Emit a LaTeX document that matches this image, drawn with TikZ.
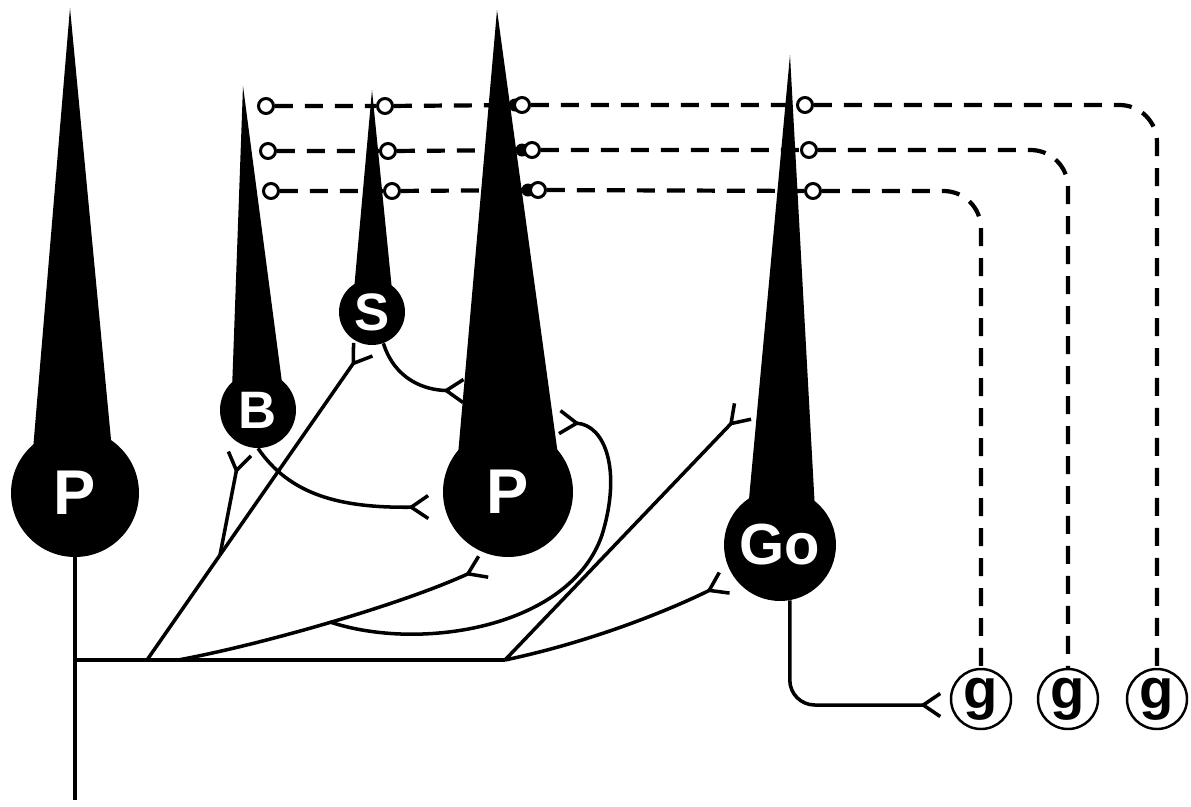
\documentclass[tikz,border=0pt]{standalone}
\usepackage{fontspec}
\setmainfont{Liberation Sans}
\usetikzlibrary{arrows.meta, calc}

\tikzset{
  soma/.style={circle, fill=black, text=white, inner sep=0pt},
  spine/.style={circle, draw, fill=white, line width=1.7pt, minimum size=0.3cm, inner sep=0pt},
  gcell/.style={circle, draw, line width=1.4pt, minimum size=1.2cm, inner sep=0pt,
                font=\bfseries\fontsize{32}{32}\selectfont},
  fibre/.style={line width=2pt},
  syn/.style={fibre, -{Straight Barb[reversed, length=3.4mm, width=4.6mm]}},
  parallel/.style={line width=2.4pt, dash pattern=on 0.36cm off 0.24cm, rounded corners=0.75cm},
}

\begin{document}
\begin{tikzpicture}[x=0.02cm, y=-0.02cm]
\useasboundingbox (0,0) rectangle (1191,806);

% dendritic cones
\fill (70,8) -- (33,450) -- (112,450) -- cycle;
\fill (243,86) -- (232,390) -- (283,390) -- cycle;
\fill (372,90) -- (354,290) -- (392,290) -- cycle;
\fill (497,10) -- (458,455) -- (558,455) -- cycle;
\fill (790,55) -- (748,510) -- (815,510) -- cycle;

% cell bodies
\node[soma, minimum size=2.56cm, font=\bfseries\fontsize{36}{36}\selectfont] (P1) at (75,493) {P};
\node[soma, minimum size=1.52cm, font=\bfseries\fontsize{30}{30}\selectfont] (B) at (258,410) {B};
\node[soma, minimum size=1.32cm, font=\bfseries\fontsize{30}{30}\selectfont] (S) at (372,312) {S};
\node[soma, minimum size=2.6cm, font=\bfseries\fontsize{36}{36}\selectfont] (P2) at (508,492) {P};
\node[soma, minimum size=2.24cm, font=\bfseries\fontsize{33}{33}\selectfont] (Go) at (780,545) {Go};

% granule cells
\node[gcell] (g1) at (981,699) {g};
\node[gcell] (g2) at (1068,699) {g};
\node[gcell] (g3) at (1157,699) {g};

% spine necks on the Purkinje dendrite
\fill (515,105) circle (0.13cm);
\fill (522,150) circle (0.13cm);
\fill (528,190) circle (0.13cm);

% spines
\node[spine] (b1) at (266,106) {};
\node[spine] (b2) at (268,151) {};
\node[spine] (b3) at (271,191) {};
\node[spine] (s1) at (385,106) {};
\node[spine] (s2) at (388,151) {};
\node[spine] (s3) at (392,191) {};
\node[spine] (p1) at (522,105) {};
\node[spine] (p2) at (532,150) {};
\node[spine] (p3) at (538,190) {};
\node[spine] (o1) at (805,105) {};
\node[spine] (o2) at (809,150) {};
\node[spine] (o3) at (813,191) {};

% parallel fibres
\draw[parallel] (b1) -- (s1) -- (p1) -- (o1) -- (o1 -| g3) -- (g3);
\draw[parallel] (b2) -- (s2) -- (p2) -- (o2) -- (o2 -| g2) -- (g2);
\draw[parallel] (b3) -- (s3) -- (p3) -- (o3) -- (o3 -| g1) -- (g1);

% branch points and terminals of the Purkinje axon
\coordinate (axEnd) at (75,800);
\coordinate (root) at (75,660);
\coordinate (hEnd) at (505,660);
\coordinate (j1) at (147,660);
\coordinate (j2) at (220,555);
\coordinate (j3) at (178,660);
\coordinate (j4) at (330,622);
\coordinate (bIn) at (240,452);
\coordinate (sIn) at (364,348);
\coordinate (pIn) at (485,566);
\coordinate (lIn) at (558,422);
\coordinate (oIn1) at (744,410);
\coordinate (oIn2) at (726,582);
\coordinate (bcIn) at (430,507);
\coordinate (scIn) at (465,391);
\coordinate (goIn) at (942,705);

% Purkinje axon and collaterals
\draw[fibre] (P1) -- (axEnd);
\draw[fibre] (root) -- (hEnd);
\draw[fibre] (j1) -- (j2);
\draw[syn] (j2) -- (bIn);
\draw[syn] (j2) -- (sIn);
\draw[syn] (j3) .. controls (260,645) and (400,605) .. (pIn);
\draw[syn] (j4) .. controls (420,652) and (570,628) .. (602,535)
                .. controls (622,470) and (605,425) .. (lIn);
\draw[syn] (hEnd) -- (oIn1);
\draw[syn] (hEnd) .. controls (600,640) and (680,605) .. (oIn2);

% basket and stellate axons
\draw[syn] (B.south) .. controls (290,495) and (340,508) .. (bcIn);
\draw[syn] (S.290) .. controls (395,380) and (425,390) .. (scIn);

% Golgi axon to the granule cells
\draw[syn, rounded corners=0.5cm] (Go.280) |- (goIn);
\end{tikzpicture}
\end{document}
